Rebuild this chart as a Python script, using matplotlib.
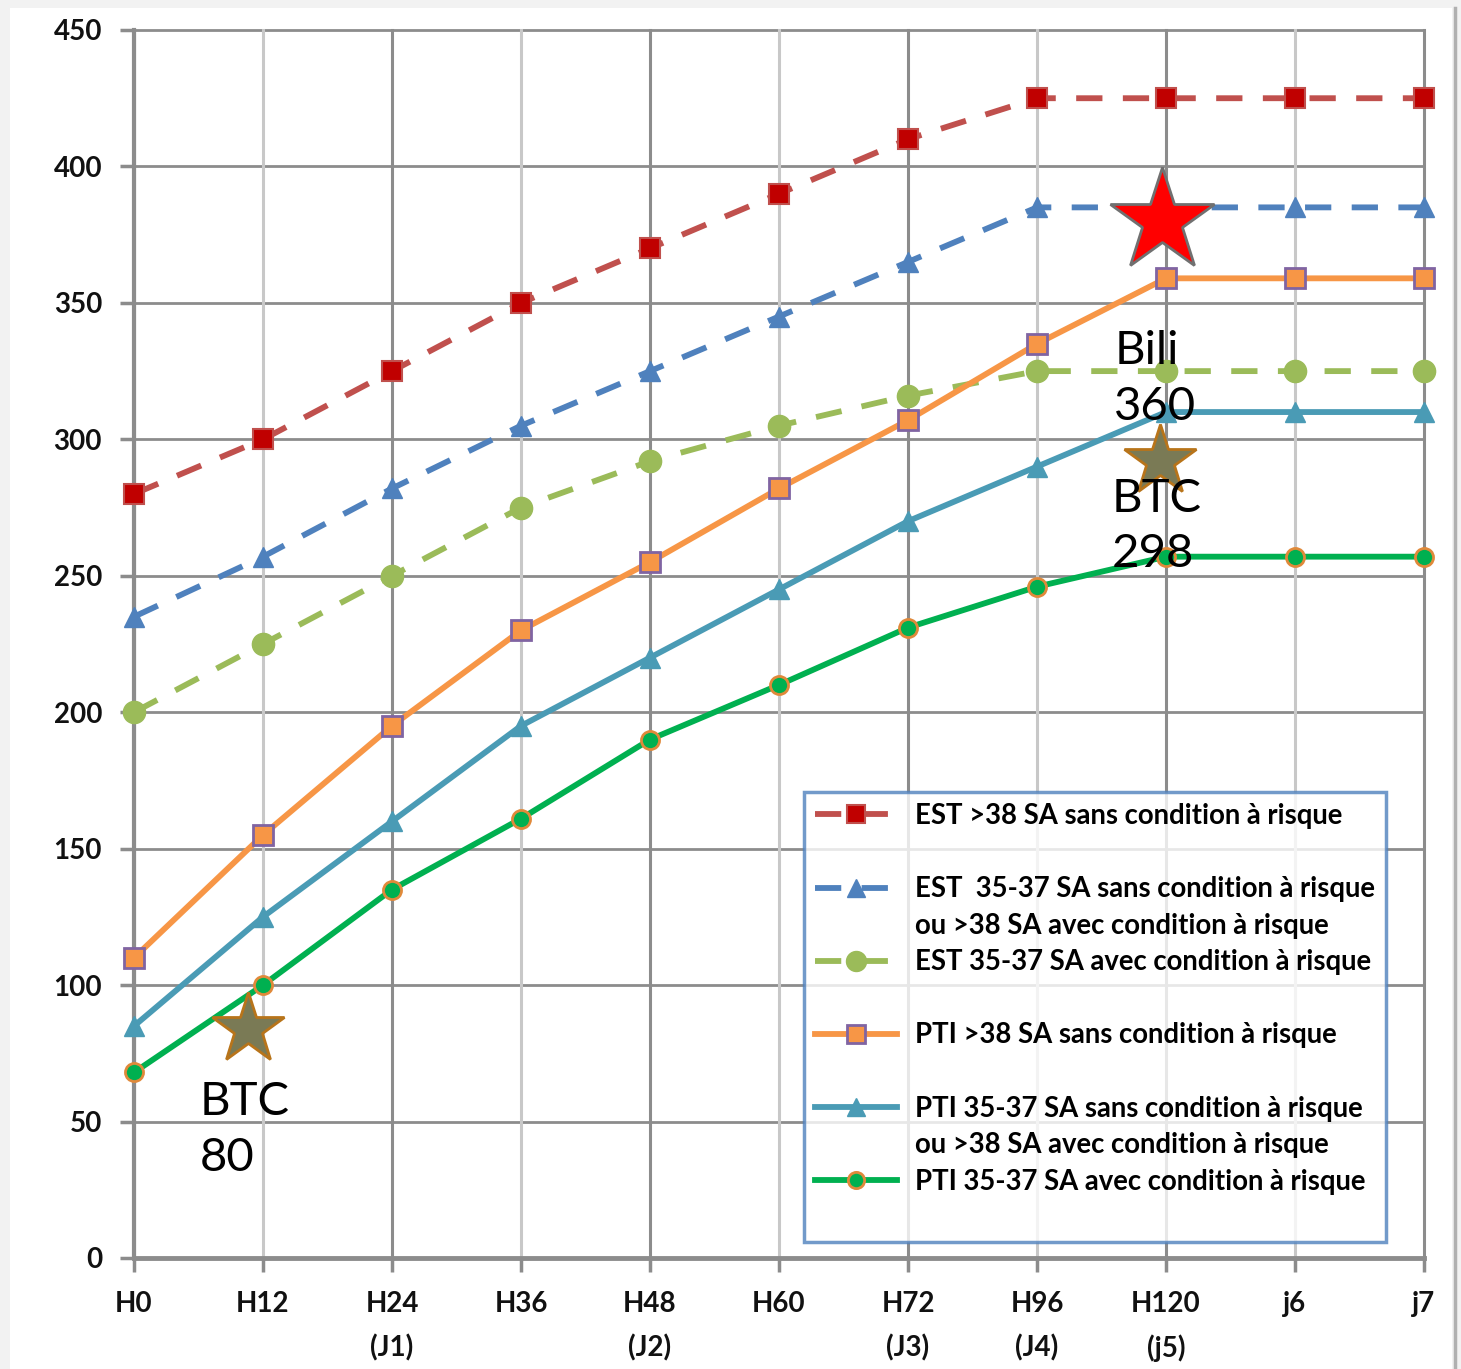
import matplotlib
matplotlib.use("Agg")
import matplotlib.pyplot as plt
from matplotlib.lines import Line2D
from matplotlib.patches import Rectangle

# données
x_labels = ["H0", "H12", "H24\n(J1)", "H36", "H48\n(J2)", "H60", "H72\n(J3)",
            "H96\n(J4)", "H120\n(j5)", "j6", "j7"]
est_38 = [280, 300, 325, 350, 370, 390, 410, 425, 425, 425, 425]
est_35_sans = [235, 257, 282, 305, 325, 345, 365, 385, 385, 385, 385]
est_35_avec = [200, 225, 250, 275, 292, 305, 316, 325, 325, 325, 325]
pti_38 = [110, 155, 195, 230, 255, 282, 307, 335, 359, 359, 359]
pti_35_sans = [85, 125, 160, 195, 220, 245, 270, 290, 310, 310, 310]
pti_35_avec = [68, 100, 135, 161, 190, 210, 231, 246, 257, 257, 257]

# étoiles et annotations (position en index x, valeur y)
star_bili = (7.97, 380)
star_btc = [(7.95, 292), (0.88, 84)]
notes = [("Bili\n360", 7.60, 322), ("BTC\n298", 7.58, 268), ("BTC\n80", 0.51, 47)]

xs = list(range(len(x_labels)))
W, H = 1461, 1369
fig = plt.figure(figsize=(W / 100, H / 100), dpi=100, facecolor="#F2F2F2")
bg = Rectangle((10 / W, 0), 1442 / W, 1 - 8 / H, transform=fig.transFigure,
               facecolor="white", edgecolor="none", zorder=-10)
fig.patches.append(bg)
fig.add_artist(Line2D([1455 / W, 1455 / W], [0, 1 - 8 / H], transform=fig.transFigure,
                      color="#b0b0b0", lw=2.5))

ax = fig.add_axes([134 / W, 1 - 1258 / H, 1290 / W, 1228 / H])
ax.set_facecolor("none")
ax.set_xlim(0, 10)
ax.set_ylim(0, 450)

# grille
for y in range(0, 451, 50):
    ax.axhline(y, color="#8c8c8c", lw=2.0, zorder=1, clip_on=False)
for i in xs:
    c = "#c8c8c8" if i % 2 else "#8c8c8c"
    ax.axvline(i, color=c, lw=2.2, zorder=1, clip_on=False)
for s in ax.spines.values():
    s.set_visible(False)
ax.axvline(0, color="#8c8c8c", lw=3, zorder=1, clip_on=False)
ax.axhline(0, color="#8c8c8c", lw=3.5, zorder=1, clip_on=False)

dash = (4.5, 3.5)
lw = 4.2
common = dict(lw=lw, zorder=3, clip_on=False)
ax.plot(xs, est_38, color="#C0504D", dashes=dash, marker="s", ms=14,
        mfc="#C00000", mec="#C0504D", mew=1.5,
        label="EST >38 SA sans condition à risque", **common)
ax.plot(xs, est_35_sans, color="#4F81BD", dashes=dash, marker="^", ms=15,
        mfc="#4F81BD", mec="#4F81BD",
        label="EST  35-37 SA sans condition à risque", **common)
ax.plot(xs, est_35_avec, color="#9BBB59", dashes=dash, marker="o", ms=16,
        mfc="#9BBB59", mec="#9BBB59",
        label="EST 35-37 SA avec condition à risque", **common)
ax.plot(xs, pti_38, color="#F79646", marker="s", ms=14,
        mfc="#F79646", mec="#8064A2", mew=2,
        label="PTI >38 SA sans condition à risque", **common)
ax.plot(xs, pti_35_sans, color="#4A9BB5", marker="^", ms=15,
        mfc="#4A9BB5", mec="#4A9BB5",
        label="PTI 35-37 SA sans condition à risque", **common)
ax.plot(xs, pti_35_avec, color="#00B050", marker="o", ms=13,
        mfc="#00B050", mec="#E0893A", mew=2,
        label="PTI 35-37 SA avec condition à risque", **common)

# étoiles
ax.plot(star_bili[0], star_bili[1], marker="*", ms=78, mfc="#FF0000", mec="#707070",
        mew=2, zorder=5, clip_on=False)
for sx, sy in star_btc:
    ax.plot(sx, sy, marker="*", ms=54, mfc="#7A7A55", mec="#B8741A", mew=2, zorder=5)

for txt, tx, ty in notes:
    ax.text(tx, ty, txt, fontsize=34, family="Lato", color="black", va="center",
            ha="left", linespacing=1.4, zorder=6)

# axes
ax.set_yticks(range(0, 451, 50))
ax.set_xticks(xs)
ax.set_xticklabels(x_labels, linespacing=1.75, va="top")
ax.tick_params(axis="both", colors="#8c8c8c", length=10, width=2.5, labelcolor="#111111")
ax.tick_params(axis="x", pad=14)
ax.tick_params(axis="y", pad=13)
for lab in ax.get_xticklabels() + ax.get_yticklabels():
    lab.set_fontfamily("Lato")
    lab.set_fontweight("bold")
    lab.set_fontsize(20)

# légende avec lignes vides comme dans l'original
h = ax.get_legend_handles_labels()[0]
blank = Line2D([], [], linestyle="none")
handles = [h[0], blank, h[1], blank, h[2], blank, h[3], blank, h[4], blank, h[5], blank]
labels = ["EST >38 SA sans condition à risque", " ",
          "EST  35-37 SA sans condition à risque", "ou >38 SA avec condition à risque",
          "EST 35-37 SA avec condition à risque", " ",
          "PTI >38 SA sans condition à risque", " ",
          "PTI 35-37 SA sans condition à risque", "ou >38 SA avec condition à risque",
          "PTI 35-37 SA avec condition à risque", " "]
leg = ax.legend(handles, labels, loc="upper left", bbox_to_anchor=(0.519, 0.3795),
                prop={"family": "Lato", "weight": "bold", "size": 19.8},
                frameon=True, fancybox=False, labelspacing=0.385, handlelength=3.0,
                handletextpad=0.65, borderpad=0.4, borderaxespad=0, markerscale=0.9)
leg.get_frame().set_edgecolor("#4F81BD")
leg.get_frame().set_linewidth(2.5)
leg.set_zorder(7)

fig.savefig("out.png", dpi=100, facecolor=fig.get_facecolor())
